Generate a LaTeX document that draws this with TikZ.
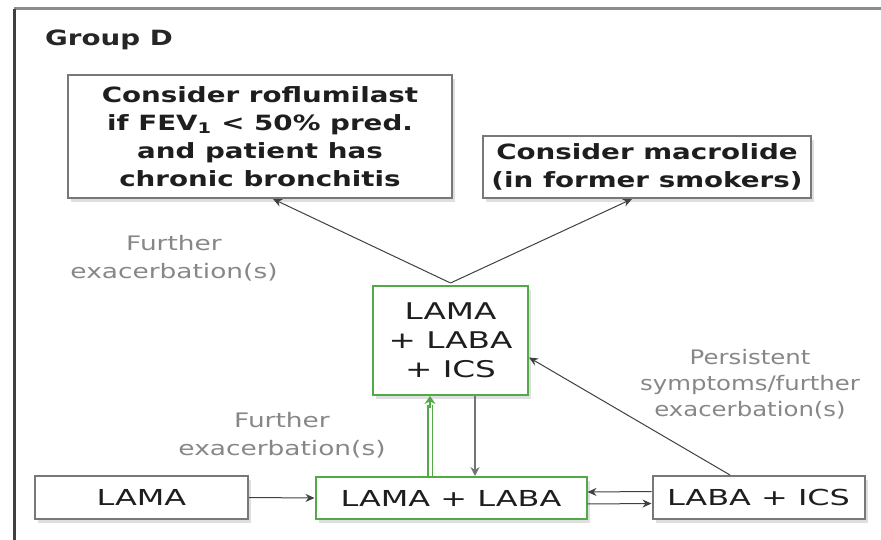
\documentclass[tikz,border=0pt]{standalone}
\usepackage{fontspec}
\setmainfont{DejaVu Sans}
\newfontfamily\fA[FakeStretch=1.32]{DejaVu Sans}
\newfontfamily\fB[FakeStretch=1.42]{DejaVu Sans}
\newfontfamily\fC[FakeStretch=1.45]{DejaVu Sans}
\newfontfamily\fD[FakeStretch=1.22]{DejaVu Sans}
\usetikzlibrary{arrows.meta,shadows}
\definecolor{boxgray}{RGB}{120,120,120}
\definecolor{boxgreen}{RGB}{80,170,70}
\definecolor{labgray}{RGB}{135,135,135}
\definecolor{txt}{RGB}{30,30,30}
\tikzset{
  box/.style={draw=boxgray, line width=2pt, fill=white, align=center, text=txt,
    inner sep=0pt, drop shadow={shadow xshift=3pt, shadow yshift=-4pt, opacity=0.25, fill=gray}},
  gbox/.style={box, draw=boxgreen},
  toptext/.style={font=\fA\fontsize{21}{28}\selectfont\bfseries},
  midtext/.style={font=\fB\fontsize{23}{29}\selectfont},
  bottext/.style={font=\fC\fontsize{22}{24}\selectfont},
  lab/.style={text=labgray, align=center, font=\fA\fontsize{20}{28}\selectfont},
  labr/.style={text=labgray, align=center, font=\fD\fontsize{20}{26}\selectfont},
  arr/.style={draw=black!75, line width=1pt, -{Stealth[length=9pt,width=8pt]}},
  garr/.style={draw=black!55, line width=1.3pt, -{Stealth[length=9pt,width=9pt]}},
  gdouble/.style={draw=boxgreen, double=white, double distance=3pt, line width=1.5pt},
}
\begin{document}
\begin{tikzpicture}[x=1pt,y=-1pt]
\useasboundingbox (0,0) rectangle (881,540);
% frame
\draw[draw=black!45, line width=3pt] (881,9) -- (14,9);
\draw[draw=black!75, line width=3pt] (14,9) -- (14,540);
\node[font=\fA\fontsize{21}{24}\selectfont\bfseries, text=black!85, anchor=west, inner sep=0pt] (gd) at (45,40) {Group D};
% boxes
\node[box, toptext, minimum width=384pt, minimum height=123pt] (rof) at (260,136.5)
  {Consider roflumilast\\ if FEV\textsubscript{1} < 50\% pred.\\ and patient has\\ chronic bronchitis};
\node[box, toptext, minimum width=328pt, minimum height=62pt] (mac) at (647,167)
  {Consider macrolide\\ (in former smokers)};
\node[gbox, midtext, minimum width=155pt, minimum height=109pt] (tri) at (450.5,340.5)
  {LAMA\\ + LABA\\ + ICS};
\node[box, bottext, minimum width=213pt, minimum height=43pt] (lama) at (141.5,497.5) {LAMA};
\node[gbox, bottext, minimum width=271pt, minimum height=42pt] (ll) at (451,498) {LAMA + LABA};
\node[box, bottext, minimum width=212pt, minimum height=43pt] (lics) at (758.5,497.5) {LABA + ICS};
% labels
\node[lab] (l1) at (174,258) {Further\\ exacerbation(s)};
\node[lab] (l2) at (282,435) {Further\\ exacerbation(s)};
\node[labr] (l3) at (750,384) {Persistent\\ symptoms/further\\ exacerbation(s)};
% connectors
\draw[arr] ([yshift=2pt]tri.north) -- ([xshift=13pt]rof.south);
\draw[arr] ([yshift=2pt]tri.north) -- ([xshift=-15pt]mac.south);
\draw[arr] (lama.east) -- (ll.west);
\draw[arr] ([yshift=6pt]lics.west) -- ([yshift=6pt]ll.east);
\draw[arr] ([yshift=-6pt]ll.east) -- ([yshift=-6pt]lics.west);
\draw[garr] ([xshift=24.5pt]tri.south) -- ([xshift=24pt]ll.north);
\draw[arr] ([xshift=-28.5pt]lics.north) -- ([yshift=-17pt]tri.east);
\draw[gdouble] ([xshift=-21pt]ll.north) -- ([xshift=-20.5pt,yshift=-9pt]tri.south);
\draw[draw=boxgreen, line width=1.5pt, -{Stealth[length=8pt,width=11pt]}] ([xshift=-20.5pt,yshift=-12pt]tri.south) -- ([xshift=-20.5pt]tri.south);
\end{tikzpicture}
\end{document}
